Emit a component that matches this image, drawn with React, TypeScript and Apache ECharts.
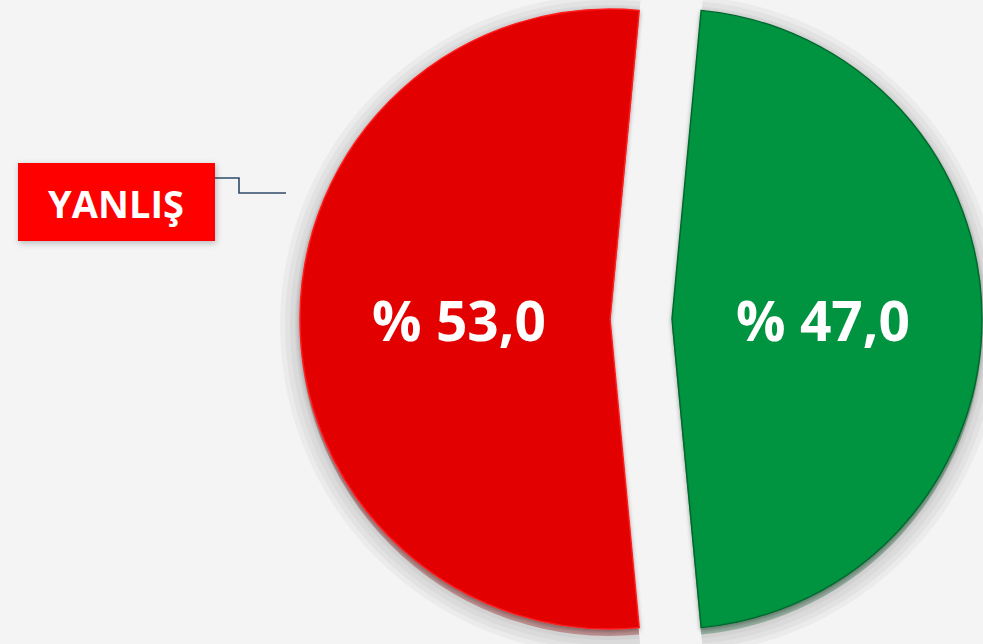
import React, { useEffect, useRef } from "react";
import * as echarts from "echarts";

const categories = ["YANLIŞ", "DOĞRU"];
const values = [53.0, 47.0];
const colors = ["#e30000", "#009341"];
const rimColors = ["#ff1a1a", "#006a2d"];
const baseColors = ["#bd8f8f", "#93ad9e"];

const fmt = (v: number) => "% " + v.toFixed(1).replace(".", ",");

const CENTER_X = 641;
const CENTER_Y = 319;
const R = 310;
const HALO_STEPS = [20, 15, 10, 5];

export default function App() {
  const ref = useRef<HTMLDivElement>(null);
  useEffect(() => {
    document.body.style.margin = "0";
    const chart = echarts.init(ref.current!, null, { renderer: "svg" });
    const common = {
      type: "pie",
      startAngle: 84.6,
      clockwise: false,
      selectedMode: "multiple",
      selectedOffset: 31,
      silent: true,
      labelLine: { show: false },
      emphasis: { disabled: true },
    };
    const halo = HALO_STEPS.map((d) => ({
      ...common,
      center: [CENTER_X, CENTER_Y + 6],
      radius: R + d,
      label: { show: false },
      data: categories.map((name, i) => ({
        name,
        value: values[i],
        selected: true,
        itemStyle: { color: "rgba(0,0,0,0.035)" },
        select: { itemStyle: { color: "rgba(0,0,0,0.035)" } },
      })),
    }));
    chart.setOption({
      animation: false,
      backgroundColor: "#f4f4f4",
      graphic: [
        {
          type: "polyline",
          shape: { points: [[215, 178], [239, 178], [239, 193], [286, 193]] },
          style: { stroke: "#2f4a6a", lineWidth: 1.6, fill: "none" },
        },
        {
          type: "rect",
          shape: { x: 18, y: 163, width: 197, height: 78 },
          style: { fill: "#ff0000", shadowBlur: 6, shadowColor: "rgba(0,0,0,0.25)", shadowOffsetX: 1, shadowOffsetY: 2 },
        },
        {
          type: "text",
          x: 116,
          y: 203,
          style: {
            text: categories[0],
            fill: "#ffffff",
            font: "bold 38px 'Open Sans', sans-serif",
            align: "center",
            verticalAlign: "middle",
          },
        },
      ],
      series: [
        ...halo,
        // extrusion / base layer
        {
          ...common,
          center: [CENTER_X, CENTER_Y + 7],
          radius: R,
          label: { show: false },
          data: categories.map((name, i) => ({
            name,
            value: values[i],
            selected: true,
            itemStyle: { color: baseColors[i] },
            select: { itemStyle: { color: baseColors[i] } },
          })),
        },
        // main slices
        {
          ...common,
          center: [CENTER_X, CENTER_Y],
          radius: R,
          label: { show: false },
          data: categories.map((name, i) => ({
            name,
            value: values[i],
            selected: true,
            itemStyle: {
              color: colors[i],
              borderColor: rimColors[i],
              borderWidth: 1.5,
              shadowBlur: 4,
              shadowColor: "rgba(0,0,0,0.35)",
              shadowOffsetY: 2,
            },
            select: {
              itemStyle: {
                color: colors[i],
                borderColor: rimColors[i],
                borderWidth: 1.5,
              },
            },
          })),
        },
        // label layer (transparent)
        {
          ...common,
          center: [CENTER_X, CENTER_Y],
          radius: R - 14,
          label: {
            show: true,
            position: "inside",
            formatter: (p: any) => fmt(p.value),
            color: "#ffffff",
            fontSize: 55,
            fontWeight: "bold",
            fontFamily: "'Open Sans', sans-serif",
          },
          data: categories.map((name, i) => ({
            name,
            value: values[i],
            selected: true,
            itemStyle: { color: "rgba(0,0,0,0)" },
            select: { itemStyle: { color: "rgba(0,0,0,0)" } },
          })),
        },
      ],
    });
    return () => chart.dispose();
  }, []);
  return <div ref={ref} style={{ width: 983, height: 644 }} />;
}
